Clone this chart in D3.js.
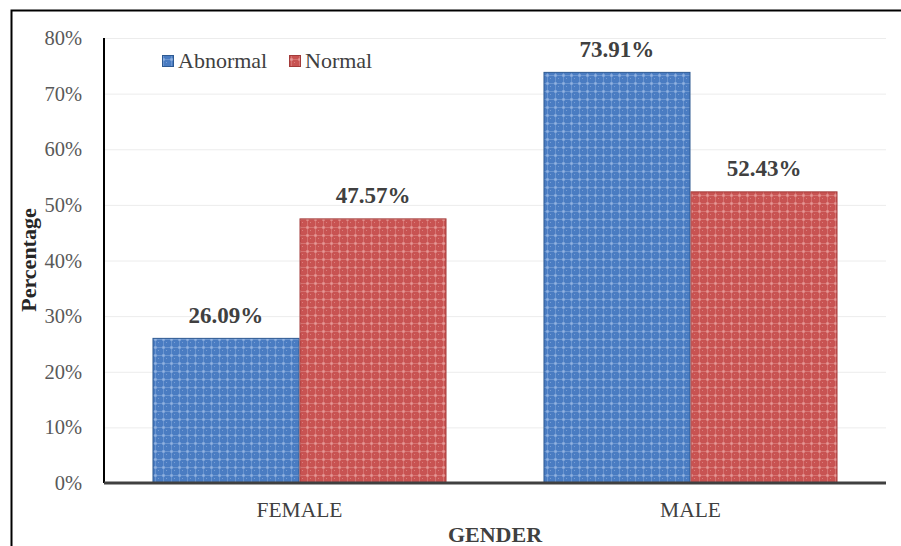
<!DOCTYPE html>
<html><head><meta charset="utf-8">
<script src="https://cdn.jsdelivr.net/npm/d3@7"></script>
<style>body{margin:0;background:#fff}svg{display:block}text{font-family:"Liberation Serif","Times New Roman",serif}</style>
</head><body><svg id="c" width="901" height="546"></svg>
<script>
const categories = ["FEMALE", "MALE"];
const seriesNames = ["Abnormal", "Normal"];
const abnormal = [26.09, 73.91];
const normal = [47.57, 52.43];
const yTicks = [0, 10, 20, 30, 40, 50, 60, 70, 80];

const svg = d3.select("#c");
const m = {l:104, r:886, t:38, b:483};
const x0 = d3.scaleBand().domain(categories).range([m.l, m.r]).paddingInner(0.248).paddingOuter(0.124);
const x1 = d3.scaleBand().domain(seriesNames).range([0, x0.bandwidth()]);
const y = d3.scaleLinear().domain([0, 80]).range([m.b, m.t]);
const FF = "Liberation Serif";

// patterns
const defs = svg.append("defs");
function pat(id, base, light) {
  const p = defs.append("pattern").attr("id", id).attr("patternUnits","userSpaceOnUse").attr("width",8).attr("height",8);
  p.append("rect").attr("width",8).attr("height",8).attr("fill",base);
  p.append("rect").attr("x",0).attr("y",3).attr("width",8).attr("height",1).attr("fill",light).attr("opacity",0.3);
  p.append("rect").attr("x",3).attr("y",0).attr("width",1).attr("height",8).attr("fill",light).attr("opacity",0.3);
  p.append("rect").attr("x",2).attr("y",2).attr("width",3).attr("height",3).attr("fill",light).attr("opacity",0.35);
  p.append("rect").attr("x",6).attr("y",6).attr("width",1).attr("height",1).attr("fill",light).attr("opacity",0.4);
}
pat("pA", "#4a7cc2", "#b8cff0");
pat("pN", "#c85352", "#f3bdbb");
const fills = {Abnormal:"url(#pA)", Normal:"url(#pN)"};
const strokes = {Abnormal:"#2e5a92", Normal:"#a33b3a"};

// outer frame
svg.append("path").attr("d","M11.5,546 V10.5 H901").attr("fill","none").attr("stroke","#000").attr("stroke-width",2);

// gridlines
svg.append("g").selectAll("line").data(yTicks.filter(d=>d>0)).join("line")
  .attr("x1",m.l).attr("x2",m.r).attr("y1",d=>y(d)+0.5).attr("y2",d=>y(d)+0.5)
  .attr("stroke","#ececec").attr("stroke-width",1);

// y tick labels
const yAxis = d3.axisLeft(y).tickValues(yTicks).tickFormat(d=>d+"%").tickSize(0).tickPadding(22);
const ya = svg.append("g").attr("transform",`translate(${m.l},0)`).call(yAxis);
ya.attr("font-family", FF);
ya.select(".domain").remove();
ya.selectAll("text").attr("font-size",20.5).attr("fill","#595959").attr("font-family",FF);

// bars
const data = categories.map((c,i)=>({cat:c, vals:[{s:"Abnormal",v:abnormal[i]},{s:"Normal",v:normal[i]}]}));
const g = svg.append("g");
data.forEach(d=>{
  d.vals.forEach(e=>{
    const bx = x0(d.cat)+x1(e.s);
    g.append("rect").attr("x",bx+0.5).attr("y",y(e.v)+0.5).attr("width",x1.bandwidth()-1).attr("height",y(0)-y(e.v)-0.5)
      .attr("fill",fills[e.s]).attr("stroke",strokes[e.s]).attr("stroke-width",1);
    g.append("text").attr("x",bx+x1.bandwidth()/2).attr("y",y(e.v)-15).attr("text-anchor","middle")
      .attr("font-family",FF).attr("font-size",23).attr("font-weight","bold").attr("fill","#404040").text(e.v.toFixed(2)+"%");
  });
});

// y axis line
svg.append("line").attr("x1",m.l).attr("x2",m.l).attr("y1",m.t).attr("y2",m.b).attr("stroke","#000").attr("stroke-width",2);
// x axis baseline
svg.append("line").attr("x1",m.l).attr("x2",m.r).attr("y1",m.b).attr("y2",m.b).attr("stroke","#404040").attr("stroke-width",3);

// x category labels
const xAxis = d3.axisBottom(x0).tickSize(0).tickPadding(19);
const xa = svg.append("g").attr("transform",`translate(0,${m.b})`).call(xAxis);
xa.attr("font-family", FF);
xa.select(".domain").remove();
xa.selectAll("text").attr("font-size",21.5).attr("fill","#404040").attr("font-family",FF);

// axis titles
svg.append("text").attr("x",495).attr("y",542).attr("text-anchor","middle").attr("font-family",FF).attr("font-size",22).attr("font-weight","bold").attr("fill","#404040").text("GENDER");
svg.append("text").attr("transform","translate(36,260) rotate(-90)").attr("text-anchor","middle").attr("font-family",FF).attr("font-size",22).attr("font-weight","bold").attr("fill","#262626").text("Percentage");

// legend
const leg = svg.append("g");
const legX = [162, 289];
seriesNames.forEach((s,i)=>{
  leg.append("rect").attr("x",legX[i]+0.5).attr("y",55.5).attr("width",11).attr("height",11).attr("fill",fills[s]).attr("stroke",strokes[s]);
  leg.append("text").attr("x",legX[i]+16).attr("y",68).attr("font-family",FF).attr("font-size",22).attr("fill","#404040").text(s);
});
</script></body></html>
